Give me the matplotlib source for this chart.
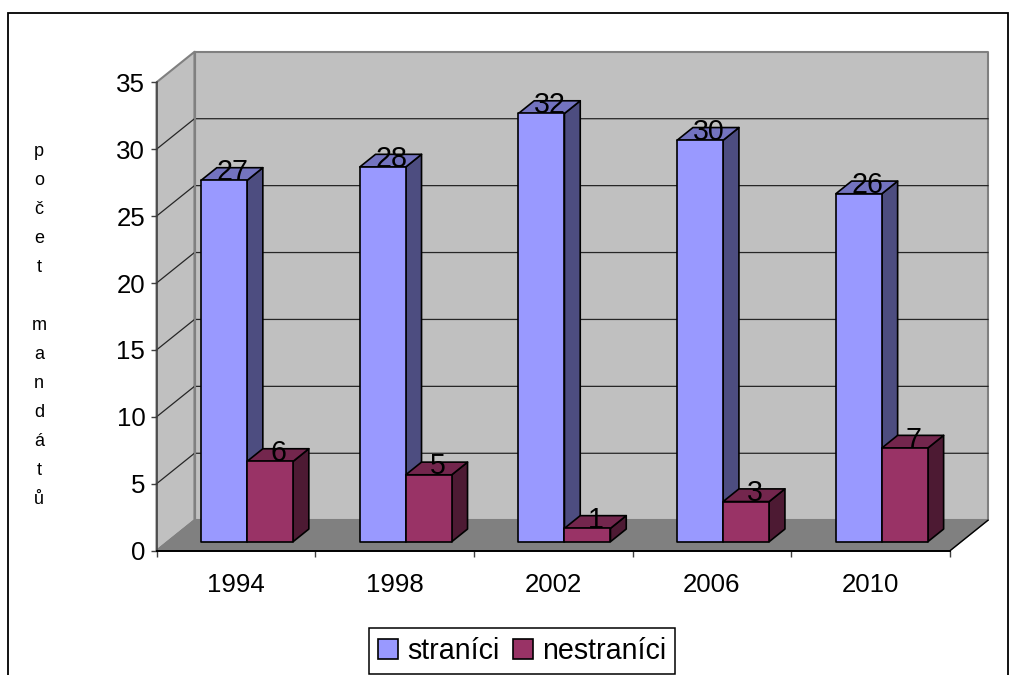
import matplotlib
matplotlib.use('Agg')
import matplotlib.pyplot as plt
from matplotlib.patches import Polygon, Patch, Rectangle

plt.rcParams['font.family'] = ['Liberation Sans', 'DejaVu Sans']

# Data
years = ['1994', '1998', '2002', '2006', '2010']
stranici = [27, 28, 32, 30, 26]
nestranici = [6, 5, 1, 3, 7]
y_ticks = [0, 5, 10, 15, 20, 25, 30, 35]
y_title = 'počet mandátů'

W, H = 1022, 675
FS = 18.6
FS_BIG = 20.6
fig = plt.figure(figsize=(W / 100, H / 100), dpi=100, facecolor='white')

# frame of the chart area, runs off the bottom of the picture
fig.add_artist(Rectangle((7.5 / W, -0.05), 1000 / W, 1.05 - 12.5 / H, transform=fig.transFigure,
                         fill=False, edgecolor='black', linewidth=1.3))

ax = fig.add_axes([156.5 / W, (H - 550.7) / H, 793.5 / W, 468.4 / H])
ax.set_xlim(0, len(years))
ax.set_ylim(0, 35)
ax.patch.set_visible(False)

# depth of the fake 3D box, in data units
DX = 38 / 158.7
DY = 30.5 / 13.38


def proj(x, y, d):
    return (x + d * DX, y + d * DY)


def poly(points, color, edge='none', lw=0, z=1):
    ax.add_patch(Polygon(points, closed=True, facecolor=color, edgecolor=edge, linewidth=lw,
                         zorder=z, clip_on=False, joinstyle='round'))


xmax = len(years)
# walls and floor
poly([proj(0, 0, 1), proj(xmax, 0, 1), proj(xmax, 35, 1), proj(0, 35, 1)], '#C0C0C0', '#808080', 1.5)
poly([proj(0, 0, 0), proj(0, 0, 1), proj(0, 35, 1), proj(0, 35, 0)], '#C0C0C0', '#808080', 1.5)
poly([proj(0, 0, 0), proj(xmax, 0, 0), proj(xmax, 0, 1), proj(0, 0, 1)], '#808080', '#808080', 1)

# gridlines on both walls
for v in y_ticks[1:-1]:
    ax.plot(*zip(proj(0, v, 0), proj(0, v, 1), proj(xmax, v, 1)), color='#262626', lw=0.9,
            zorder=2, clip_on=False, solid_joinstyle='miter')
ax.plot(*zip(proj(0, 0, 0), proj(0, 0, 1)), color='#808080', lw=1, zorder=2, clip_on=False)
ax.plot(*zip(proj(0, 0, 1), proj(0, 35, 1)), color='#808080', lw=1.5, zorder=2, clip_on=False)
ax.plot(*zip(proj(xmax, 0, 0), proj(xmax, 0, 1)), color='black', lw=1, zorder=2, clip_on=False)

BAR_W = 46 / 158.7
D0, D1 = 0.295, 0.71


def bar3d(x0, val, front, top, side, z):
    x1 = x0 + BAR_W
    poly([proj(x1, 0, D0), proj(x1, 0, D1), proj(x1, val, D1), proj(x1, val, D0)], side, 'black', 1.2, z)
    poly([proj(x0, val, D0), proj(x1, val, D0), proj(x1, val, D1), proj(x0, val, D1)], top, 'black', 1.2, z)
    poly([proj(x0, 0, D0), proj(x1, 0, D0), proj(x1, val, D0), proj(x0, val, D0)], front, 'black', 1.2, z)
    ax.annotate(str(val), proj(x0 + BAR_W / 2, val, (D0 + D1) / 2), xytext=(0.5, 1.5),
                textcoords='offset points', ha='center', va='center', fontsize=FS_BIG,
                color='black', zorder=20)


for i in range(len(years)):
    bar3d(i + 0.5 - BAR_W, stranici[i], '#9999FF', '#7373BF', '#4D4D80', 5 + i * 2)
    bar3d(i + 0.5, nestranici[i], '#993366', '#73264D', '#4D1A33', 6 + i * 2)

# axes
for s in ['top', 'right']:
    ax.spines[s].set_visible(False)
ax.spines['left'].set_color('#404040')
ax.spines['left'].set_linewidth(1.1)
ax.spines['bottom'].set_color('black')
ax.spines['bottom'].set_linewidth(1.4)
ax.spines['left'].set_zorder(30)
ax.spines['bottom'].set_zorder(30)

ax.set_yticks(y_ticks)
ax.set_xticks(range(len(years) + 1))
ax.set_xticklabels([])
ax.set_xticks([i + 0.5 for i in range(len(years))], years, minor=True)
ax.tick_params(axis='x', which='major', length=4.5, width=1, color='#404040')
ax.tick_params(axis='x', which='minor', length=0, pad=16, labelsize=FS)
ax.tick_params(axis='y', length=4.5, width=1, color='#404040', pad=3.6, labelsize=FS)

# vertical title, one letter per line
fig.text(39 / W, 1 - 325.5 / H, '\n'.join(y_title), ha='center', va='center', fontsize=13,
         linespacing=1.92, color='black')

handles = [Patch(facecolor='#9999FF', edgecolor='black', linewidth=1.2, label='straníci'),
           Patch(facecolor='#993366', edgecolor='black', linewidth=1.2, label='nestraníci')]
leg = fig.legend(handles=handles, ncol=2, loc='center', bbox_to_anchor=(522 / W, 1 - 651 / H),
                 fontsize=FS_BIG, fancybox=False, framealpha=1, edgecolor='black',
                 handlelength=0.7, handleheight=0.7, handletextpad=0.31, columnspacing=0.48,
                 borderpad=0.32, borderaxespad=0)
leg.get_frame().set_linewidth(1.1)

fig.savefig('out.png', dpi=100)
